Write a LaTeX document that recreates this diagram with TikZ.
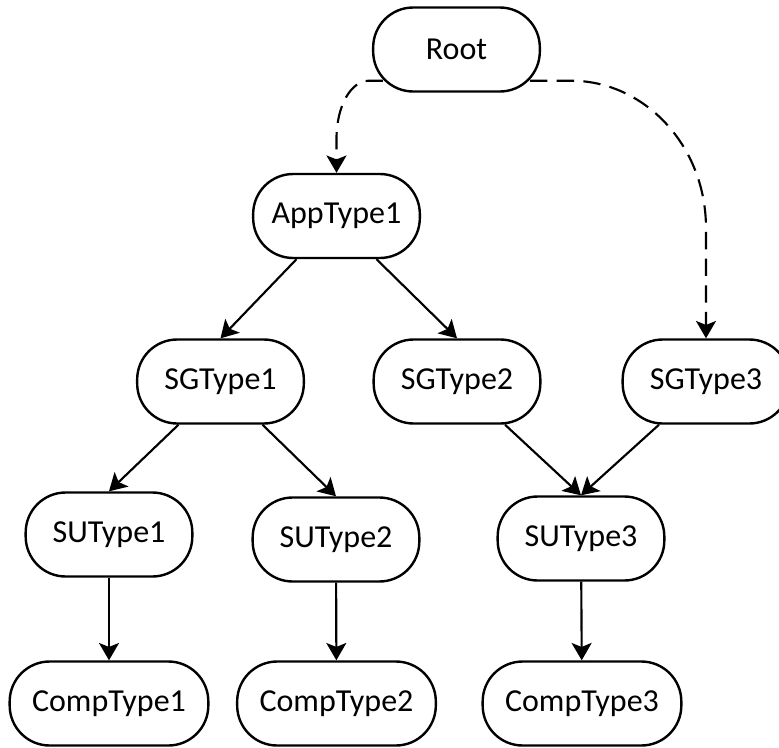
\documentclass[tikz,border=0pt]{standalone}
\usepackage{fontspec}
\setmainfont{Carlito}
\usetikzlibrary{arrows.meta,calc}
\begin{document}
\begin{tikzpicture}[x=0.75pt,y=-0.75pt,
  box/.style={draw, line width=1.8pt, rounded corners=30pt,
    minimum width=125pt, minimum height=63pt, inner sep=0pt,
    font=\fontsize{24}{28}\selectfont},
  comp/.style={box, minimum width=149pt},
  link/.style={line width=1.6pt, -{Stealth[length=13pt,width=15pt,inset=3pt]}},
  optional/.style={link, dash pattern=on 13pt off 7pt}
]
\useasboundingbox (0,0) rectangle (779,747);

% type hierarchy
\node[box] (root) at (456.5,49.5) {Root};
\node[box] (app)  at (336.5,216)  {AppType1};
\node[box] (sg1)  at (220.5,381.5) {SGType1};
\node[box] (sg2)  at (457,381.5)  {SGType2};
\node[box] (sg3)  at (706,381.5)  {SGType3};
\node[box] (su1)  at (109,534.5)  {SUType1};
\node[box] (su2)  at (336,539.5)  {SUType2};
\node[box] (su3)  at (581,538.5)  {SUType3};
\node[comp] (c1)  at (109,703.5)  {CompType1};
\node[comp] (c2)  at (336.5,703.5) {CompType2};
\node[comp] (c3)  at (582,703.5)  {CompType3};

% dashed links out of the root
\coordinate (rl) at ($(root.south west)+(11,-12)$);
\coordinate (rr) at ($(root.south east)+(-11,-12)$);
\draw[optional] (rl) -- ($(rl)+(-14,0)$)
  .. controls ($(rl)+(-32,0)$) and ($(app.north)+(0,-67)$) .. ($(app.north)+(0,-34)$)
  -- (app.north);
\draw[optional] (rr) -- ($(rr)+(41,0)$)
  .. controls ($(rr)+(114,0)$) and ($(sg3.north)+(0,-193)$) .. ($(sg3.north)+(0,-110)$)
  -- (sg3.north);

% solid links
\draw[link] ($(app.south)+(-40,0)$) -- (sg1.north);
\draw[link] ($(app.south)+(40,0)$) -- (sg2.north);
\draw[link] ($(sg1.south)+(-42,0)$) -- (su1.north);
\draw[link] ($(sg1.south)+(42,0)$) -- (su2.north);
\draw[link] ($(sg2.south)+(48,0)$) -- (su3.north);
\draw[link] ($(sg3.south)+(-47,0)$) -- (su3.north);
\draw[link] (su1) -- (c1);
\draw[link] (su2) -- (c2);
\draw[link] (su3) -- (c3);
\end{tikzpicture}
\end{document}
